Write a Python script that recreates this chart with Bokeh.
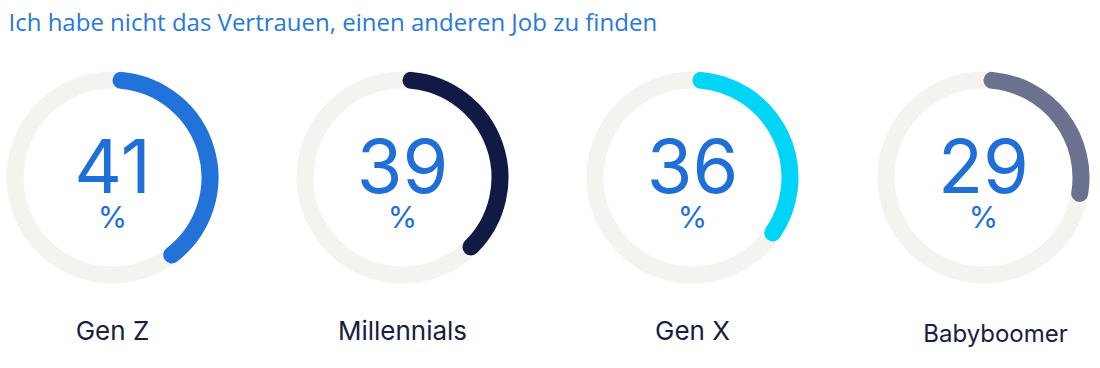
from bokeh.plotting import figure
from bokeh.models import Range1d, ColumnDataSource
from bokeh.core.properties import value
from bokeh.embed import file_html
from bokeh.resources import INLINE

# ---- data ----
title_text = "Ich habe nicht das Vertrauen, einen anderen Job zu finden"
groups = ["Gen Z", "Millennials", "Gen X", "Babyboomer"]
values = [41, 39, 36, 29]
colors = ["#2273d9", "#101a45", "#00d5f8", "#6b7290"]

# ---- style / layout ----
W, H = 1100, 368
centers_x = [112, 402, 692, 983]
center_y = 191
ring_r = 97.5
ring_w = 17
cap_deg = 5.0
label_sizes = ["26px", "26px", "26px", "24px"]
label_dx = [0, 0, 0, 12]
label_y = [38, 38, 38, 35]

p = figure(width=W, height=H, output_backend="svg", toolbar_location=None,
           x_range=Range1d(0, W), y_range=Range1d(0, H), min_border=0,
           match_aspect=False)
p.axis.visible = False
p.grid.visible = False
p.outline_line_color = None
p.background_fill_color = "white"
p.border_fill_color = "white"

# background rings
p.circle(x=centers_x, y=[center_y] * 4, radius=ring_r, fill_color=None,
         line_color="#f4f3ef", line_width=ring_w)

# value arcs (clockwise from 12 o'clock)
start = [90 - (v * 3.6 - cap_deg) for v in values]
end = [90 - cap_deg] * len(values)
src = ColumnDataSource(dict(x=centers_x, y=[center_y] * 4, start=start, end=end, color=colors))
p.arc(x="x", y="y", radius=ring_r, start_angle="start", end_angle="end",
      start_angle_units="deg", end_angle_units="deg", direction="anticlock",
      line_color="color", line_width=ring_w, line_cap="round", source=src)

# numbers
p.text(x=centers_x, y=[203] * 4, text=[str(v) for v in values],
       text_font=value("Inter"), text_font_size="74px", text_color="#1f6fd6",
       text_align="center", text_baseline="alphabetic")
p.text(x=centers_x, y=[152] * 4, text=["%"] * 4,
       text_font=value("Inter"), text_font_size="30px", text_color="#1f6fd6",
       text_align="center", text_baseline="alphabetic")

# labels
for g, cx, fs, dx, ly in zip(groups, centers_x, label_sizes, label_dx, label_y):
    p.text(x=[cx + dx], y=[ly], text=[g], text_font=value("Inter"),
           text_font_size=fs, text_color="#16203f",
           text_align="center", text_baseline="alphabetic")

# title
p.text(x=[8], y=[347], text=[title_text], text_font=value("Open Sans"),
       text_font_size="24px", text_color="#2878d8",
       text_align="left", text_baseline="alphabetic")

open("out.html", "w").write(file_html(p, INLINE))
